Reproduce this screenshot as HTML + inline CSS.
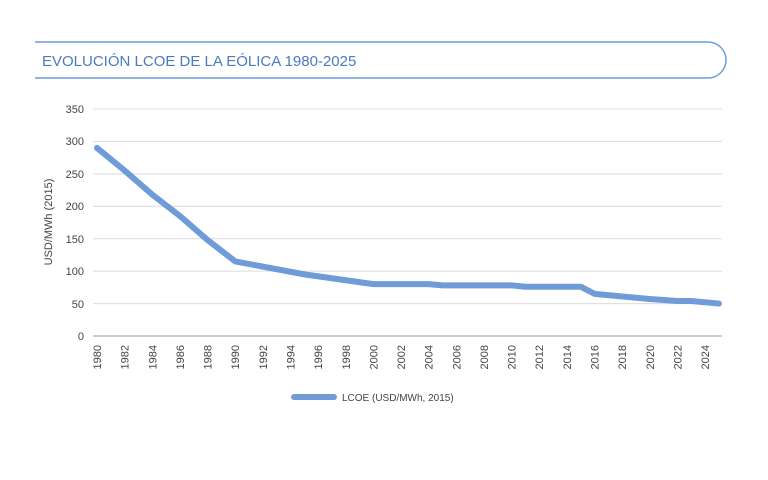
<!DOCTYPE html>
<html><head><meta charset="utf-8"><style>
body{margin:0;background:#fff;}
svg{display:block;font-family:"Liberation Sans",sans-serif;}
</style></head><body>
<svg width="768" height="480" viewBox="0 0 768 480">
<path d="M35 42 H708 A18 18 0 0 1 708 78 H35" fill="none" stroke="#6f9bd8" stroke-width="1.5"/>
<text x="42" y="66" font-size="15" fill="#4a7bbf">EVOLUCIÓN LCOE DE LA EÓLICA 1980-2025</text>
<g stroke="#dcdcdc" stroke-width="1">
<line x1="93" x2="722" y1="109" y2="109"/><line x1="93" x2="722" y1="141.4" y2="141.4"/>
<line x1="93" x2="722" y1="173.9" y2="173.9"/><line x1="93" x2="722" y1="206.3" y2="206.3"/>
<line x1="93" x2="722" y1="238.7" y2="238.7"/><line x1="93" x2="722" y1="271.1" y2="271.1"/>
<line x1="93" x2="722" y1="303.6" y2="303.6"/>
</g>
<line x1="93" x2="722" y1="336" y2="336" stroke="#999" stroke-width="1"/>
<g font-size="11" fill="#444" text-anchor="end">
<text x="84" y="113">350</text><text x="84" y="145">300</text><text x="84" y="178">250</text>
<text x="84" y="210">200</text><text x="84" y="243">150</text><text x="84" y="275">100</text>
<text x="84" y="308">50</text><text x="84" y="340">0</text>
</g>
<text transform="translate(52,222) rotate(-90)" font-size="11" fill="#444" text-anchor="middle">USD/MWh (2015)</text>
<g font-size="11" fill="#444" text-anchor="end" id="xl"></g>
<polyline fill="none" stroke="#6f9bd8" stroke-width="6" stroke-linejoin="round" stroke-linecap="round" id="ln"/>
<line x1="294" x2="334" y1="397" y2="397" stroke="#6f9bd8" stroke-width="6" stroke-linecap="round"/>
<text x="342" y="401" font-size="10" fill="#444">LCOE (USD/MWh, 2015)</text>
</svg>
<script>
var x0=97,dx=13.82;function X(y){return x0+(y-1980)*dx}function Y(v){return 336-v*0.6486}
var g=document.getElementById('xl'),s='';
for(var y=1980;y<=2024;y+=2){s+='<text transform="translate('+(X(y)+4)+',345) rotate(-90)">'+y+'</text>';}
g.innerHTML=s;
var d=[[1980,290],[1982,255],[1984,218],[1986,185],[1988,148],[1990,115],[1995,95],[2000,80],[2004,80],[2005,78],[2010,78],[2011,76],[2015,76],[2016,65],[2020,57],[2022,54],[2023,54],[2025,50]];
document.getElementById('ln').setAttribute('points',d.map(function(p){return X(p[0])+','+Y(p[1])}).join(' '));
</script>
</body></html>
